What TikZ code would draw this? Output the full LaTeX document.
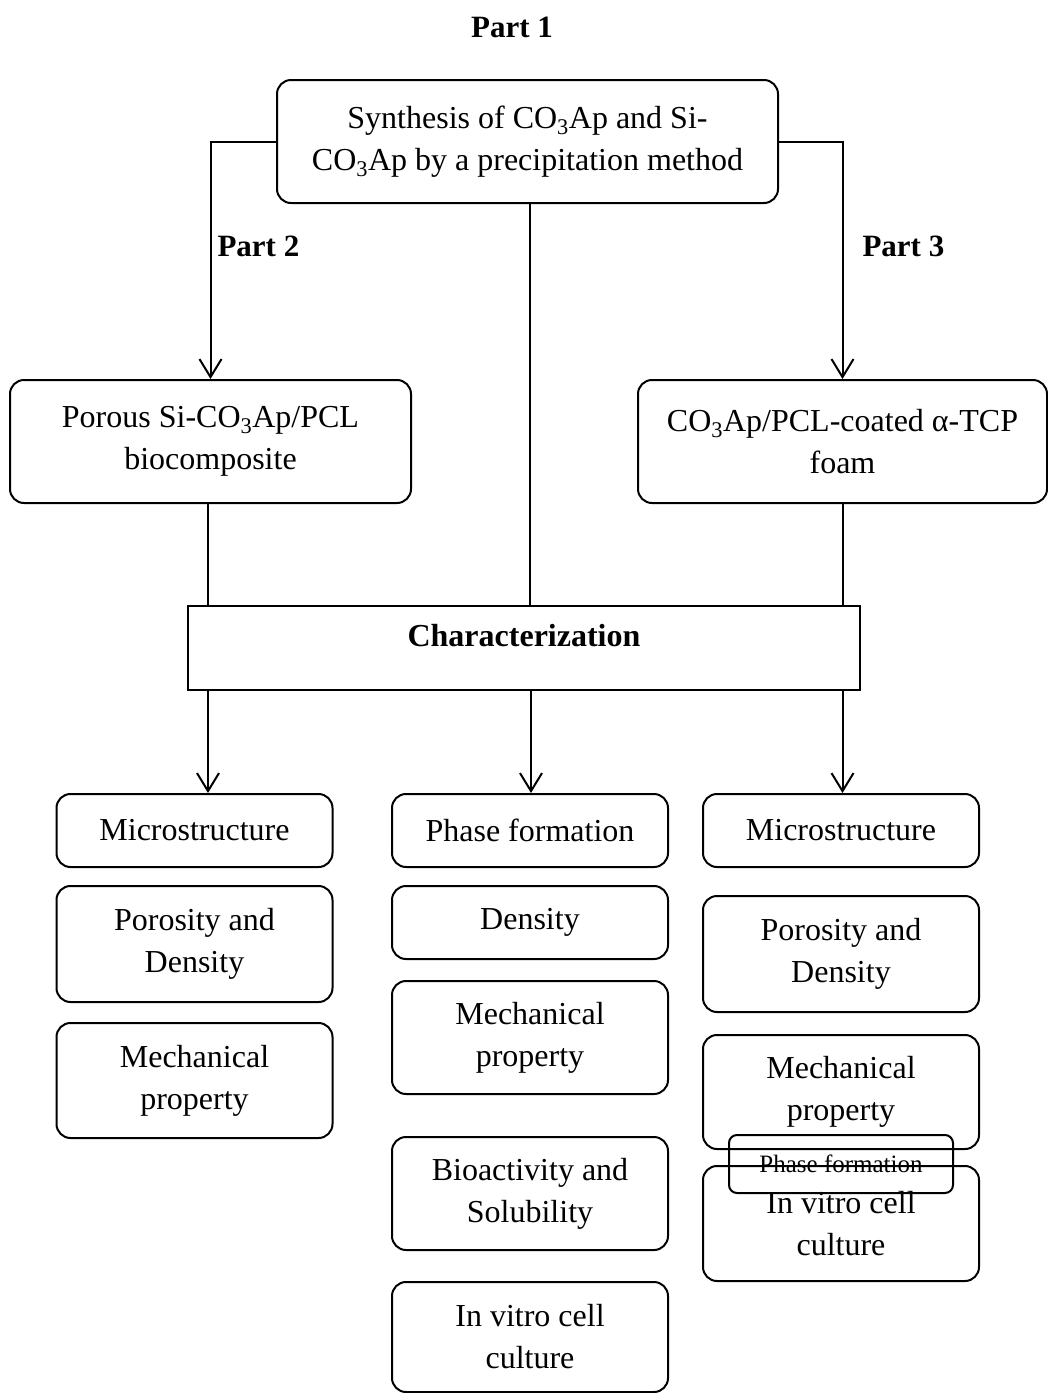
\documentclass[tikz,border=0pt]{standalone}
\usepackage{fontspec}
\setmainfont{Liberation Serif}
\usepackage{tikz}
\usetikzlibrary{arrows.meta, positioning, calc}

\begin{document}
\begin{tikzpicture}[
    x=1pt, y=-1pt,
    line width=2pt,
    block/.style={rectangle, draw, rounded corners=14pt, align=center, inner sep=0pt, font=\fontsize{32}{42}\selectfont},
    item/.style={block, minimum width=276pt},
    charbox/.style={rectangle, draw, inner sep=0pt, minimum width=672pt, minimum height=84pt, text depth=26pt, font=\fontsize{32}{42}\selectfont\bfseries},
    partlabel/.style={font=\fontsize{31}{38}\selectfont\bfseries, inner sep=0pt},
    arrow/.style={-{Straight Barb[length=18pt, width=22pt]}}
]
\useasboundingbox (0,0) rectangle (1048,1393);

% Nodes
\node [partlabel] (part1) at (512,27) {Part 1};
\node [block, minimum width=501pt, minimum height=123pt] (synth) at (527.5,141.5)
    {Synthesis of CO\textsubscript{3}Ap and Si-\\CO\textsubscript{3}Ap by a precipitation method};
\node [block, minimum width=401pt, minimum height=123pt] (porous) at (210.5,441.5)
    {Porous Si-CO\textsubscript{3}Ap/PCL\\biocomposite};
\node [block, minimum width=409pt, minimum height=123pt] (coated) at (842.5,441.5)
    {CO\textsubscript{3}Ap/PCL-coated α-TCP\\foam};
\node [charbox] (charac) at (524,648) {Characterization};

% Left column
\node [item, minimum height=73pt] (microA) at (194.5,830.5) {Microstructure};
\node [item, minimum height=116pt] (poroA) at (194.5,944) {Porosity and\\Density};
\node [item, minimum height=115pt] (mechA) at (194.5,1080.5) {Mechanical\\property};

% Middle column
\node [item, minimum height=73pt] (phaseB) at (530,830.5) {Phase formation};
\node [item, minimum height=73pt] (densB) at (530,922.5) {Density};
\node [item, minimum height=113pt] (mechB) at (530,1037.5) {Mechanical\\property};
\node [item, minimum height=113pt] (bioB) at (530,1193.5) {Bioactivity and\\Solubility};
\node [item, minimum height=110pt] (cellB) at (530,1337) {In vitro cell\\culture};

% Right column
\node [item, minimum height=73pt] (microC) at (841,830.5) {Microstructure};
\node [item, minimum height=116pt] (poroC) at (841,954) {Porosity and\\Density};
\node [item, minimum height=114pt] (mechC) at (841,1092) {Mechanical\\property};
\node [item, minimum height=115pt] (cellC) at (841,1223.5) {In vitro cell\\culture};
\node [block, rounded corners=8pt, minimum width=224pt, minimum height=58pt, font=\fontsize{25}{30}\selectfont] (phaseC) at (841,1164) {Phase formation};

% Paths
\draw [arrow] (synth.west) -| node[pos=0.72, right, partlabel, xshift=6pt] {Part 2} (porous.north);
\draw [arrow] (synth.east) -| node[pos=0.72, right, partlabel, xshift=19pt] {Part 3} (coated.north);
\draw ($(synth.south)+(2.5,0)$) -- ($(synth.south |- charac.north)+(2.5,0)$);
\draw ($(porous.south)+(-2.5,0)$) -- ($(porous.south |- charac.north)+(-2.5,0)$);
\draw (coated.south) -- (coated.south |- charac.north);
\draw [arrow] ($(porous.south |- charac.south)+(-2.5,0)$) -- ($(porous.south |- microA.north)+(-2.5,0)$);
\draw [arrow] ($(synth.south |- charac.south)+(3.5,0)$) -- ($(synth.south |- phaseB.north)+(3.5,0)$);
\draw [arrow] (coated.south |- charac.south) -- (coated.south |- microC.north);

\end{tikzpicture}
\end{document}
